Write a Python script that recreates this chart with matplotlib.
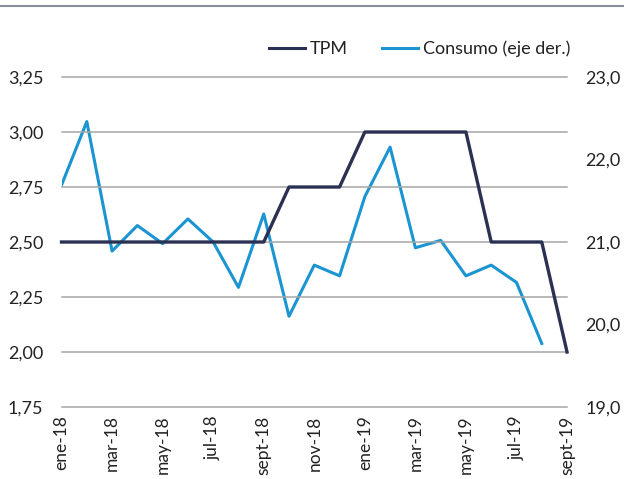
import matplotlib
matplotlib.use('Agg')
import matplotlib.pyplot as plt
from matplotlib.lines import Line2D
import matplotlib.transforms as mtransforms

plt.rcParams['font.family'] = ['Lato', 'DejaVu Sans']

meses = ['ene-18', 'feb-18', 'mar-18', 'abr-18', 'may-18', 'jun-18', 'jul-18',
         'ago-18', 'sept-18', 'oct-18', 'nov-18', 'dic-18', 'ene-19', 'feb-19',
         'mar-19', 'abr-19', 'may-19', 'jun-19', 'jul-19', 'ago-19', 'sept-19']
tpm = [2.5, 2.5, 2.5, 2.5, 2.5, 2.5, 2.5, 2.5, 2.5, 2.75, 2.75, 2.75,
       3.0, 3.0, 3.0, 3.0, 3.0, 2.5, 2.5, 2.5, 2.0]
consumo = [21.69, 22.46, 20.89, 21.20, 20.98, 21.28, 21.0, 20.45, 21.34, 20.10,
           20.72, 20.59, 21.55, 22.15, 20.93, 21.02, 20.59, 20.72, 20.51, 19.77]

c_tpm = '#2b3152'
c_cons = '#1b94d2'
grid_c = '#a6a6a6'
txt_c = '#222222'

fig = plt.figure(figsize=(6.24, 4.79), dpi=100)
ax = fig.add_axes([0.0986, 0.1503, 0.8101, 0.6889])
ax2 = ax.twinx()

x = list(range(len(meses)))
ax.set_ylim(1.75, 3.25)
ax2.set_ylim(19, 23)
ax.set_xlim(0, 20)

yt = [1.75, 2.0, 2.25, 2.5, 2.75, 3.0, 3.25]
ax.set_yticks(yt)
ax.set_yticklabels([('%.2f' % v).replace('.', ',') for v in yt])
for v in yt:
    ax.axhline(v, color=grid_c, lw=1.1, zorder=0, clip_on=False)
yt2 = [19, 20, 21, 22, 23]
ax2.set_yticks(yt2)
ax2.set_yticklabels([('%.1f' % v).replace('.', ',') for v in yt2])

ax.set_xticks(x[::2])
ax.set_xticklabels(meses[::2], rotation=90)
shift = mtransforms.ScaledTranslation(2 / 72, 0, fig.dpi_scale_trans)
for lab in ax.get_xticklabels():
    lab.set_transform(lab.get_transform() + shift)

ax2.plot(x[:len(consumo)], consumo, color=c_cons, lw=2.2, zorder=3)
ax.plot(x, tpm, color=c_tpm, lw=2.4, zorder=4, clip_on=False)
ax.set_zorder(ax2.get_zorder() + 1)
ax.patch.set_visible(False)

for a in (ax, ax2):
    for s in a.spines.values():
        s.set_visible(False)
    a.tick_params(length=0, labelsize=13, colors=txt_c)
ax.tick_params(axis='y', pad=13)
ax2.tick_params(axis='y', pad=13)
ax.tick_params(axis='x', pad=6, labelsize=12.5)

handles = [Line2D([], [], color=c_tpm, lw=2.2), Line2D([], [], color=c_cons, lw=2.2)]
fig.legend(handles, ['TPM', 'Consumo (eje der.)'], loc='center right',
           bbox_to_anchor=(0.94, 0.898), ncol=2, frameon=False, fontsize=13,
           handlelength=1.95, handletextpad=0.3, columnspacing=1.9, labelcolor=txt_c)

fig.add_artist(Line2D([0, 1], [0.987, 0.987], color='#8a8f99', lw=1.5))

fig.savefig('out.png', dpi=100)
